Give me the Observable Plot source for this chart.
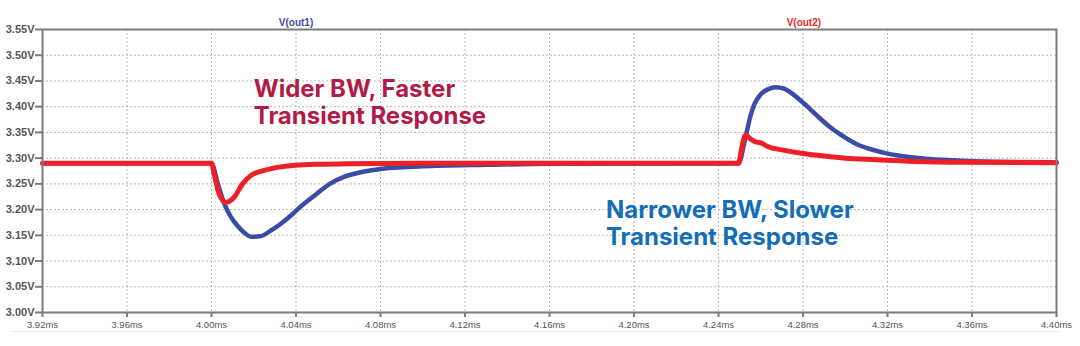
<!DOCTYPE html>
<html><head><meta charset="utf-8">
<script src="https://cdn.jsdelivr.net/npm/d3@7"></script>
<script src="https://cdn.jsdelivr.net/npm/@observablehq/plot@0.6"></script>
<style>
body{margin:0;background:#fff;}
#wrap{position:relative;width:1080px;height:346px;overflow:hidden;}
#sep{position:absolute;left:10px;top:331px;width:1050px;height:1px;background:#e6edf6;}
</style></head><body><div id="wrap"><div id="chart"></div><div id="sep"></div></div>
<script>
// V(out1): narrower bandwidth (blue)
const timeOut1 = [3.92, 4.000, 4.003, 4.006, 4.009, 4.012, 4.015, 4.019, 4.023, 4.028, 4.033, 4.038, 4.042, 4.049, 4.056, 4.063, 4.071, 4.080, 4.100, 4.130, 4.160, 4.2495,
  4.2525, 4.255, 4.257, 4.260, 4.2635, 4.267, 4.271, 4.275, 4.280, 4.286, 4.292, 4.298, 4.305, 4.314, 4.325, 4.338, 4.350, 4.370, 4.40];
const vOut1 = [3.290, 3.290, 3.250, 3.212, 3.187, 3.170, 3.157, 3.147, 3.148, 3.159, 3.173, 3.190, 3.205, 3.228, 3.250, 3.264, 3.273, 3.279, 3.284, 3.287, 3.289, 3.290,
  3.335, 3.380, 3.405, 3.424, 3.434, 3.438, 3.435, 3.425, 3.408, 3.385, 3.363, 3.345, 3.328, 3.315, 3.305, 3.299, 3.296, 3.293, 3.292];
// V(out2): wider bandwidth (red)
const timeOut2 = [3.92, 4.000, 4.0012, 4.0036, 4.0068, 4.0107, 4.0147, 4.0186, 4.0249, 4.0328, 4.0486, 4.064, 4.100, 4.2495,
  4.2510, 4.2527, 4.256, 4.258, 4.260, 4.263, 4.270, 4.280, 4.290, 4.300, 4.315, 4.330, 4.355, 4.40];
const vOut2 = [3.290, 3.290, 3.270, 3.231, 3.214, 3.224, 3.250, 3.266, 3.276, 3.283, 3.288, 3.289, 3.290, 3.290,
  3.320, 3.344, 3.335, 3.331, 3.330, 3.323, 3.316, 3.309, 3.304, 3.300, 3.297, 3.294, 3.292, 3.291];
const xTicks = [3.92, 3.96, 4.00, 4.04, 4.08, 4.12, 4.16, 4.20, 4.24, 4.28, 4.32, 4.36, 4.40];
const yTicks = [3.00, 3.05, 3.10, 3.15, 3.20, 3.25, 3.30, 3.35, 3.40, 3.45, 3.50, 3.55];
const seriesNames = ["V(out1)", "V(out2)"];
const annotations = ["Wider BW, Faster\nTransient Response", "Narrower BW, Slower\nTransient Response"];

const BLUE = "#3a4da6", RED = "#ee1f27", AXIS = "#7c7c7c";
const out1 = timeOut1.map((t, i) => ({t, v: vOut1[i]}));
const out2 = timeOut2.map((t, i) => ({t, v: vOut2[i]}));

const chart = Plot.plot({
  width: 1080, height: 346,
  marginLeft: 42, marginRight: 24, marginTop: 29, marginBottom: 34,
  x: {domain: [3.92, 4.40]},
  y: {domain: [3.00, 3.55]},
  style: {fontFamily: "'Liberation Sans', Arial, sans-serif", background: "#fff", color: "#555"},
  marks: [
    Plot.gridX(xTicks, {stroke: "#b8b8b8", strokeOpacity: 1, strokeDasharray: "2,2", strokeWidth: 1}),
    Plot.gridY(yTicks, {stroke: "#b8b8b8", strokeOpacity: 1, strokeDasharray: "2,2", strokeWidth: 1}),
    Plot.line(out1, {x: "t", y: "v", stroke: BLUE, strokeWidth: 4.5, curve: "monotone-x"}),
    Plot.line(out2, {x: "t", y: "v", stroke: RED, strokeWidth: 5, curve: "monotone-x"}),
    Plot.frame({stroke: AXIS, strokeWidth: 2}),
    Plot.axisX(xTicks, {tickFormat: d => d.toFixed(2) + "ms", tickSize: 5, tickPadding: 4, stroke: AXIS, strokeWidth: 2, fill: "#555", fontSize: 9.5, label: null}),
    Plot.axisY(yTicks, {tickFormat: d => d.toFixed(2) + "V", tickSize: 7, tickPadding: 1, stroke: AXIS, strokeWidth: 2, fill: "#555", fontSize: 11, fontWeight: 600, label: null}),
    Plot.text([seriesNames[0]], {x: () => 4.04, y: () => 3.55, dy: -7, fill: BLUE, fontSize: 10, fontWeight: 600, text: d => d}),
    Plot.text([seriesNames[1]], {x: () => 4.2804, y: () => 3.55, dy: -7, fill: RED, fontSize: 10, fontWeight: 600, text: d => d}),
    Plot.text([annotations[0]], {x: () => 4.02, y: () => 3.3667, text: d => d, textAnchor: "start", lineAnchor: "bottom", lineHeight: 1.1, fill: "#b21a47", fontSize: 24, fontWeight: "bold", fontFamily: "Inter"}),
    Plot.text([annotations[1]], {x: () => 4.1867, y: () => 3.1315, text: d => d, textAnchor: "start", lineAnchor: "bottom", lineHeight: 1.1, fill: "#136db8", fontSize: 24, fontWeight: "bold", fontFamily: "Inter"})
  ]
});
document.getElementById("chart").appendChild(chart);
</script></body></html>
